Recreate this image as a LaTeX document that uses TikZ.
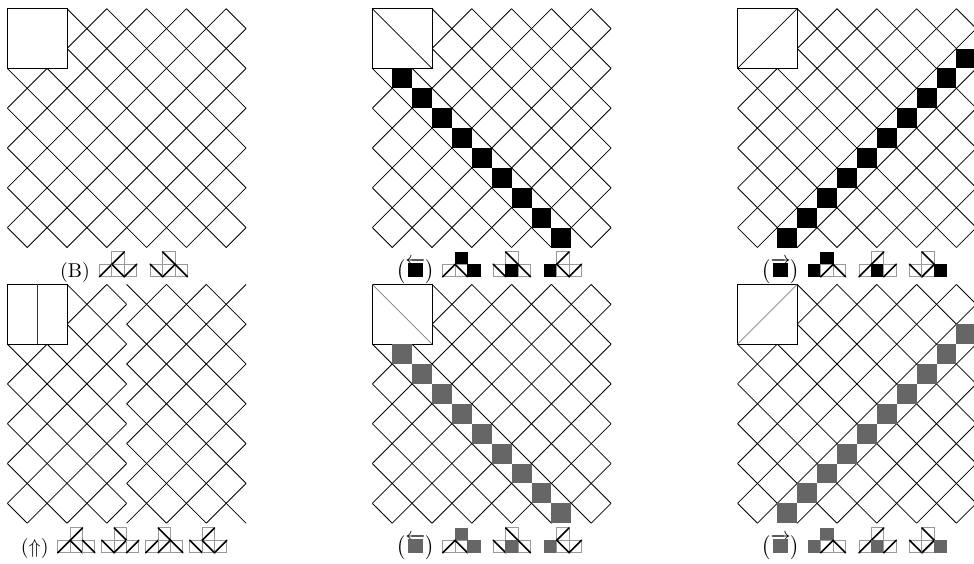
\documentclass[tikz,border=0pt]{standalone}
\tikzset{
  gridline/.style={line width=0.8pt,black},
  tileframe/.style={line width=1pt,draw=black!40},
  tilediag/.style={line width=1.6pt,black,line cap=round},
  lab/.style={anchor=base,scale=2,inner sep=0pt,outer sep=0pt},
  cellunit/.style={x=19.9pt,y=-19.9pt},
  tileunit/.style={x=12.4pt,y=-12.4pt}
}
\definecolor{midgray}{gray}{0.4}
\newcommand{\oddlattice}{%
  \foreach \c in {-11,-9,...,11} \draw[gridline] (\c,0) -- ({\c+12},12);
  \foreach \c in {1,3,...,23} \draw[gridline] (\c,0) -- ({\c-12},12);
}
\newcommand{\evenlattice}{%
  \foreach \c in {-12,-10,...,12} \draw[gridline] (\c,0) -- ({\c+12},12);
  \foreach \c in {0,2,...,24} \draw[gridline] (\c,0) -- ({\c-12},12);
}
\newcommand{\fullgrid}{%
  \begin{scope}\clip (0,0) rectangle (12,12);\oddlattice\end{scope}
  \fill[white] (0,0) rectangle (3,3);
  \draw[gridline] (0,0) rectangle (3,3);
}
\newcommand{\splitgrid}{%
  \begin{scope}\clip (0,0) rectangle (6,12);\oddlattice\end{scope}
  \begin{scope}\clip (6,0) rectangle (12,12);\evenlattice\end{scope}
  \fill[white] (0,0) rectangle (3,3);
  \draw[gridline] (0,0) rectangle (3,3);
  \draw[line width=1pt,black!80] (1.5,0) -- (1.5,3);
}
% tiles
\newcommand{\tileS}[2]{\draw[tileframe] (#1,#2) rectangle ++(1,1);\draw[tilediag] (#1,#2+1) -- ++(1,-1);}
\newcommand{\tileB}[2]{\draw[tileframe] (#1,#2) rectangle ++(1,1);\draw[tilediag] (#1,#2) -- ++(1,1);}
\newcommand{\tileK}[2]{\filldraw[line width=0.8pt,draw=black,fill=black] (#1,#2) rectangle ++(1,1);}
\newcommand{\tileG}[2]{\filldraw[line width=0.8pt,draw=midgray,fill=midgray] (#1,#2) rectangle ++(1,1);}
% \tglyph{x left}{y top of lower row}{top}{left}{mid}{right}
\newcommand{\tglyph}[6]{%
  \begin{scope}[shift={(#1,#2)},tileunit]
    \csname tile#3\endcsname{1}{-1}
    \csname tile#4\endcsname{0}{0}
    \csname tile#5\endcsname{1}{0}
    \csname tile#6\endcsname{2}{0}
  \end{scope}%
}
\newcommand{\boxglyph}{\kern1pt\rule{7.5pt}{7pt}\kern1pt}
\begin{document}
\begin{tikzpicture}[x=1pt,y=-1pt]
\useasboundingbox (0,0) rectangle (974,563);
\clip (0,0) rectangle (974,563);
% top row
\begin{scope}[shift={(7.3,8.7)},cellunit]
  \fullgrid
\end{scope}
\begin{scope}[shift={(372.3,8.7)},cellunit]
  \fullgrid
  \draw[gridline] (0,0) -- (3,3);
  \foreach \k in {1,...,9} \fill[black] (\k,{\k+2}) rectangle ++(1,1);
\end{scope}
\begin{scope}[shift={(737.5,8.7)},cellunit]
  \fullgrid
  \draw[gridline] (0,3) -- (3,0);
  \foreach \k in {2,...,11} \fill[black] (\k,{13-\k}) rectangle ++(1,1);
\end{scope}
% bottom row
\begin{scope}[shift={(7.3,284.4)},cellunit]
  \splitgrid
\end{scope}
\begin{scope}[shift={(372.3,284.4)},cellunit]
  \fullgrid
  \draw[gridline,black!50] (0,0) -- (3,3);
  \foreach \k in {1,...,9} \fill[midgray] (\k,{\k+2}) rectangle ++(1,1);
\end{scope}
\begin{scope}[shift={(737.5,284.4)},cellunit]
  \fullgrid
  \draw[gridline,black!50] (0,3) -- (3,0);
  \foreach \k in {2,...,11} \fill[midgray] (\k,{13-\k}) rectangle ++(1,1);
\end{scope}
% labels
\node[lab] (b) at (75,277) {(B)};
\node[lab] (lk) at (415.3,277) {$\bigl(\overleftarrow{\boxglyph}\bigr)$};
\node[lab] (rk) at (780.5,277) {$\bigl(\overrightarrow{\boxglyph}\bigr)$};
\node[lab] (up) at (34.7,553) {$(\Uparrow)$};
\node[lab] (lg) at (415.3,553) {$\bigl(\overleftarrow{\color{midgray}\boxglyph}\bigr)$};
\node[lab] (rg) at (780.5,553) {$\bigl(\overrightarrow{\color{midgray}\boxglyph}\bigr)$};
% tile glyphs, top row
\tglyph{99.5}{264.3}{S}{S}{B}{S}
\tglyph{150.3}{264.3}{B}{B}{S}{B}
\tglyph{442.7}{264.3}{K}{S}{B}{K}
\tglyph{493.3}{264.3}{B}{B}{K}{B}
\tglyph{544.3}{264.3}{S}{K}{B}{S}
\tglyph{808.3}{264.3}{K}{K}{S}{B}
\tglyph{859}{264.3}{S}{S}{K}{S}
\tglyph{909.5}{264.3}{B}{B}{S}{K}
% tile glyphs, bottom row
\tglyph{57.7}{540.3}{S}{S}{B}{B}
\tglyph{101.7}{540.3}{B}{B}{S}{S}
\tglyph{145.7}{540.3}{B}{S}{S}{B}
\tglyph{189.7}{540.3}{S}{B}{B}{S}
\tglyph{442.7}{540.3}{G}{S}{B}{G}
\tglyph{493.3}{540.3}{B}{B}{G}{B}
\tglyph{544.3}{540.3}{S}{G}{B}{S}
\tglyph{808.3}{540.3}{G}{G}{S}{B}
\tglyph{859}{540.3}{S}{S}{G}{S}
\tglyph{909.5}{540.3}{B}{B}{S}{G}
\end{tikzpicture}
\end{document}
